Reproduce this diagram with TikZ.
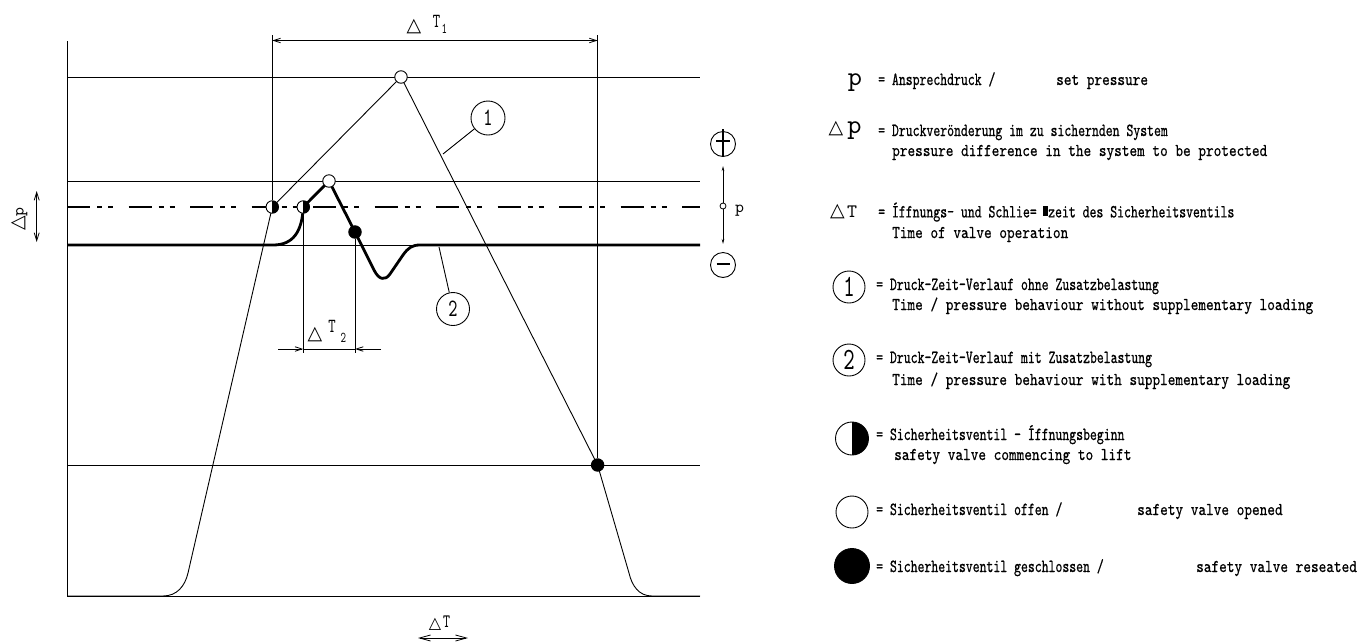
\documentclass[tikz,border=0pt]{standalone}
\usepackage{fontspec}
\newfontfamily\gerf[FakeStretch=0.71,FakeBold=0.6]{lmmono10-regular.otf}
\newfontfamily\engf[FakeStretch=0.81,FakeBold=0.5]{lmmono10-regular.otf}
\newfontfamily\monof{lmmono10-regular.otf}
\newfontfamily\condf[FakeStretch=0.7]{lmmono10-regular.otf}
\newfontfamily\symf{DejaVu Sans}
\usetikzlibrary{arrows.meta}
\begin{document}
\begin{tikzpicture}[x=1pt,y=-1pt,
  thinline/.style={line width=0.9pt},
  thickline/.style={line width=2.8pt, line join=round},
  dimtip/.style={-{Straight Barb[length=7pt,width=4.5pt]}},
  vsym/.style={circle, draw, line width=0.9pt, minimum size=12.5pt, inner sep=0pt, fill=white},
  vopen/.style={vsym},
  vclosed/.style={vsym, fill=black},
  vhalf/.style={vsym, path picture={\fill[black] (path picture bounding box.north) rectangle (path picture bounding box.south east);}},
  ger/.style={anchor=base west, inner sep=0pt, font=\gerf\fontsize{18.5}{18.5}\selectfont},
  eng/.style={anchor=base west, inner sep=0pt, font=\engf\fontsize{18}{18}\selectfont},
  numc/.style={circle, draw, line width=0.9pt, inner sep=0pt},
  glyph/.style={inner sep=0pt, anchor=center},
]
\fill[white] (0,0) rectangle (1361,641);
\useasboundingbox (0,0) rectangle (1361,641);

% ---------- frame and reference lines ----------
\coordinate (axTop) at (67,41);
\coordinate (O) at (67,596);
\coordinate (axR) at (700,596);
\draw[thinline] (axTop) -- (O) -- (axR);
\foreach \yy/\nm in {77/a,181/b,245/c,465/d}{
  \coordinate (hl\nm L) at (67,\yy);
  \coordinate (hl\nm R) at (700,\yy);
  \draw[thinline] (hl\nm L) -- (hl\nm R);
}
\coordinate (dashL) at (67,207);
\coordinate (dashR) at (700,207);
\draw[line width=2.8pt, dash pattern=on 23pt off 7pt on 5pt off 6pt on 5pt off 15.5pt] (dashL) -- (dashR);

% ---------- symbol positions ----------
\coordinate (ph1) at (272.3,207);
\coordinate (ph2) at (303.3,207);
\coordinate (po1) at (401,77);
\coordinate (po2) at (329,181);
\coordinate (pf1) at (355,232);
\coordinate (pf2) at (597.6,465);

% ---------- curve 1 ----------
\coordinate (c1a) at (163,596);
\coordinate (c1b) at (188,573);
\coordinate (c1c) at (629,573);
\coordinate (c1d) at (652,596);
\draw[thinline, line join=round] (O) -- (c1a) .. controls (177,596) and (185,586) .. (c1b)
  -- (ph1) -- (po1) -- (pf2) -- (c1c) .. controls (632,586) and (639,596) .. (c1d) -- (axR);

% ---------- curve 2 ----------
\coordinate (c2a) at (273,245);
\coordinate (c2b) at (374,270);
\coordinate (c2c) at (390,274);
\coordinate (c2d) at (403,255);
\coordinate (c2e) at (420,245);
\draw[thickline] (hlcL) -- (c2a) .. controls (293,245) and (302,232) .. (ph2) -- (po2) -- (pf1)
  -- (c2b) .. controls (379,280) and (385,281) .. (c2c) -- (c2d) .. controls (408,248) and (412,245) .. (c2e) -- (hlcR);

% ---------- valve symbols ----------
\node[vhalf] (h1) at (ph1) {};
\node[vhalf] (h2) at (ph2) {};
\node[vopen] (o1) at (po1) {};
\node[vopen] (o2) at (po2) {};
\node[vclosed] (f1) at (pf1) {};
\node[vclosed] (f2) at (pf2) {};

% ---------- Delta T1 ----------
\coordinate (e1t) at (272.3,35);
\coordinate (e2t) at (597.6,35);
\draw[thinline] (e1t) -- (h1);
\draw[thinline] (e2t) -- (f2);
\coordinate (d1a) at (272.3,40.5);
\coordinate (d1b) at (597.6,40.5);
\draw[line width=0.8pt, {Straight Barb[length=7pt,width=4.5pt]}-{Straight Barb[length=7pt,width=4.5pt]}] (d1a) -- (d1b);
\node[glyph, font=\symf\fontsize{19}{19}\selectfont] (dT1a) at (414,27) {△};
\node[glyph, font=\condf\fontsize{20}{20}\selectfont] (dT1b) at (436.5,21.5) {T};
\node[glyph, font=\condf\fontsize{15}{15}\selectfont] (dT1c) at (444.5,29) {1};

% ---------- Delta T2 ----------
\coordinate (e3b) at (303.3,353);
\coordinate (e4b) at (355,353);
\draw[thinline] (h2) -- (e3b);
\draw[thinline] (f1) -- (e4b);
\coordinate (d2l) at (278,349);
\coordinate (d2a) at (303.3,349);
\coordinate (d2b) at (355,349);
\coordinate (d2r) at (381,349);
\draw[line width=0.8pt] (d2a) -- (d2b);
\draw[line width=0.8pt, dimtip] (d2l) -- (d2a);
\draw[line width=0.8pt, dimtip] (d2r) -- (d2b);
\node[glyph, font=\symf\fontsize{19}{19}\selectfont] (dT2a) at (315,334.5) {△};
\node[glyph, font=\condf\fontsize{20}{20}\selectfont] (dT2b) at (332,326.5) {T};
\node[glyph, font=\condf\fontsize{15}{15}\selectfont] (dT2c) at (343.5,337.5) {2};

% ---------- curve labels ----------
\node[numc, minimum size=34pt, font=\condf\fontsize{25}{25}\selectfont] (n1) at (488,118) {1};
\coordinate (n1e) at (443,154);
\draw[thinline] (n1) -- (n1e);
\node[numc, minimum size=33pt, font=\condf\fontsize{25}{25}\selectfont] (n2) at (453,309) {2};
\coordinate (n2e) at (439,247);
\draw[thinline] (n2) -- (n2e);

% ---------- Delta p (left) ----------
\coordinate (dpa) at (36.7,191);
\coordinate (dpb) at (36.7,242);
\draw[line width=0.8pt, {Straight Barb[length=8pt,width=5pt]}-{Straight Barb[length=8pt,width=5pt]}] (dpa) -- (dpb);
\node[glyph, rotate=90] (dplab) at (19.5,219) {{\symf\fontsize{19}{19}\selectfont △}{\monof\fontsize{17}{17}\selectfont p}};

% ---------- Delta T (bottom) ----------
\coordinate (dta) at (418,638);
\coordinate (dtb) at (468,638);
\draw[line width=0.8pt, {Straight Barb[length=11pt,width=6pt]}-{Straight Barb[length=11pt,width=6pt]}] (dta) -- (dtb);
\node[glyph, font=\symf\fontsize{16}{16}\selectfont] (dtlab1) at (435,624) {△};
\node[glyph, font=\condf\fontsize{19}{19}\selectfont] (dtlab2) at (446.5,622) {T};

% ---------- p marker (right) ----------
\node[circle, draw, line width=0.9pt, minimum size=25pt, inner sep=0pt] (plus) at (723,144) {};
\coordinate (pv1) at (723,129);
\coordinate (pv2) at (723,156);
\coordinate (ph1a) at (716,141);
\coordinate (ph1b) at (730,141);
\draw[line width=1.6pt] (pv1) -- (pv2);
\draw[line width=1.6pt] (ph1a) -- (ph1b);
\node[circle, draw, line width=0.9pt, minimum size=25pt, inner sep=0pt] (minus) at (723,265) {};
\coordinate (mh1) at (716.5,264);
\coordinate (mh2) at (729.5,264);
\draw[line width=2.6pt] (mh1) -- (mh2);
\node[circle, draw, line width=0.8pt, minimum size=6pt, inner sep=0pt, fill=white] (pm) at (723,206) {};
\coordinate (pu) at (723,166);
\coordinate (pd) at (723,244);
\draw[line width=0.8pt, -{Stealth[length=5pt,width=2.5pt]}] (pm) -- (pu);
\draw[line width=0.8pt, -{Stealth[length=5pt,width=2.5pt]}] (pm) -- (pd);
\node[glyph, font=\monof\fontsize{17}{17}\selectfont] (plab) at (739.5,211) {p};

% ---------- legend ----------
\node[glyph, font=\monof\fontsize{27}{27}\selectfont] (Lp) at (855,83) {p};
\node[ger] (Lp1) at (878,85) {= Ansprechdruck /};
\node[eng] (Lp2) at (1056,85) {set pressure};

\node[glyph, font=\symf\fontsize{19}{19}\selectfont] (Ldp1) at (836,129) {△};
\node[glyph, font=\monof\fontsize{27}{27}\selectfont] (Ldp2) at (854.5,131) {p};
\node[ger] (Ldpg) at (878,136) {= Druckverönderung im zu sichernden System};
\node[eng] (Ldpe) at (892,156) {pressure difference in the system to be protected};

\node[glyph, font=\symf\fontsize{19}{19}\selectfont] (LdT1) at (837.5,211.5) {△};
\node[glyph, font=\monof\fontsize{19}{19}\selectfont] (LdT2) at (852,211.5) {T};
\node[ger] (LdTg) at (878,217.4) {= Íffnungs- und Schlie= \hspace{-1pt}\rule[1pt]{5.5pt}{10pt}zeit des Sicherheitsventils};
\node[eng] (LdTe) at (892,238) {Time of valve operation};

\node[numc, minimum size=32pt, font=\condf\fontsize{31}{31}\selectfont] (L1c) at (849,287) {1};
\node[ger] (L1g) at (876,290) {= Druck-Zeit-Verlauf ohne Zusatzbelastung};
\node[eng] (L1e) at (892,310) {Time / pressure behaviour without supplementary loading};

\node[numc, minimum size=32pt, font=\condf\fontsize{31}{31}\selectfont] (L2c) at (849,360) {2};
\node[ger] (L2g) at (876,363) {= Druck-Zeit-Verlauf mit Zusatzbelastung};
\node[eng] (L2e) at (892,385) {Time / pressure behaviour with supplementary loading};

\node[vhalf, minimum size=33pt] (Lh) at (852,438.5) {};
\node[ger] (Lhg) at (876,440) {= Sicherheitsventil - Íffnungsbeginn};
\node[eng] (Lhe) at (894,460) {safety valve commencing to lift};

\node[vopen, minimum size=32pt] (Lo) at (852,512) {};
\node[ger] (Log) at (876,515) {= Sicherheitsventil offen /};
\node[eng] (Loe) at (1137,515) {safety valve opened};

\node[vclosed, minimum size=35pt] (Lf) at (852,566) {};
\node[ger] (Lfg) at (876,572) {= Sicherheitsventil geschlossen /};
\node[eng] (Lfe) at (1196,572) {safety valve reseated};
\end{tikzpicture}
\end{document}
